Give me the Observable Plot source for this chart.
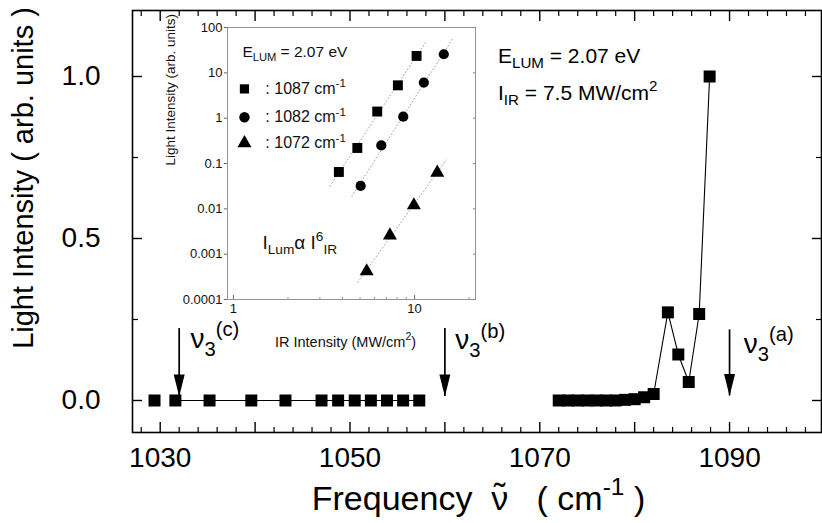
<!DOCTYPE html>
<html><head><meta charset="utf-8">
<script src="https://cdn.jsdelivr.net/npm/d3@7"></script>
<script src="https://cdn.jsdelivr.net/npm/@observablehq/plot@0.6"></script>
<style>
body{margin:0;background:#fff;}
#wrap{position:relative;width:822px;height:523px;overflow:hidden;background:#fff;}
#main{position:absolute;left:0;top:0;}
#inset{position:absolute;left:150px;top:0;}
svg text{white-space:pre;}
</style></head><body><div id="wrap"><div id="main"></div><div id="inset"></div></div>
<script>
// ---------- main spectrum data ----------
const leftFreq  = [1029.4, 1031.6, 1035.2, 1039.6, 1043.2, 1047.0, 1048.75, 1050.5, 1052.2, 1053.9, 1055.6, 1057.3];
const leftVal   = [0, 0, 0, 0, 0, 0, 0, 0, 0, 0, 0, 0];
const rightFreq = [1072, 1073, 1074, 1075, 1076, 1077, 1078, 1079, 1080, 1081, 1082, 1083.5, 1084.6, 1085.7, 1086.8, 1087.9];
const rightVal  = [0, 0, 0, 0, 0, 0, 0, 0.002, 0.004, 0.01, 0.02, 0.272, 0.142, 0.057, 0.267, 1.0];

// arrows marking nu3 positions
const arrowFreq = [1032, 1060, 1090];
const arrowTop  = [0.222, 0.222, 0.218];
const arrowTip  = [0.012, 0.012, 0.014];
const arrowText = ["ν_{3}^{(c)}", "ν_{3}^{(b)}", "ν_{3}^{(a)}"];
const arrowTextX = [1033.2, 1061.1, 1091.5];
const arrowTextY = [0.163, 0.158, 0.147];

// main annotations
const noteText = ["E_{LUM} = 2.07 eV", "I_{IR} = 7.5 MW/cm^{2}"];
const noteX = [1065.6, 1065.6];
const noteY = [1.043, 0.929];

// axis titles
const yTitle = "Light Intensity ( arb. units )";
const xTitle = "Frequency  ~{ν}   ( cm^{-1} )";

// main axis ticks
const xLabelTicks = [1030, 1050, 1070, 1090];
const xOtherMajor = [1040, 1060, 1080];
const xMinorTicks = [1028, 1032, 1034, 1036, 1038, 1042, 1044, 1046, 1048, 1052, 1054, 1056, 1058, 1062, 1064, 1066, 1068, 1072, 1074, 1076, 1078, 1082, 1084, 1086, 1088, 1092, 1094, 1096, 1098];
const yMajorTicks = [0, 0.5, 1.0];
const yMinorTicks = [0.25, 0.75];

// ---------- inset data (log-log) ----------
const sqIR = [3.82, 4.83, 6.22, 8.09, 10.26];
const sqI  = [0.065, 0.22, 1.4, 5.3, 23.6];
const ciIR = [5.04, 6.55, 8.66, 11.25, 14.5];
const ciI  = [0.032, 0.25, 1.08, 6.1, 25.7];
const trIR = [5.44, 7.31, 9.91, 13.35];
const trI  = [0.00042, 0.0026, 0.012, 0.063];

const insetYTicks = [0.0001, 0.001, 0.01, 0.1, 1, 10, 100];
const insetYLabels = ["0.0001", "0.001", "0.01", "0.1", "1", "10", "100"];
const insetXTicks = [1, 10];
const insetXMinor = [2, 3, 4, 5, 6, 7, 8, 9, 20];

const legendSymbols = ["square", "circle", "triangle"];
const legendText = [": 1087 cm^{-1}", ": 1082 cm^{-1}", ": 1072 cm^{-1}"];
const legendSymX = 1.15, legendTextX = 1.5;
const legendY = [4.42, 1.05, 0.281];

const insetTitle = "E_{LUM} = 2.07 eV";
const insetTitleX = 1.12, insetTitleY = 22.7;
const lawText = "I_{Lum}α I^{6}_{IR}";
const lawX = 1.445, lawY = 0.00132;
const insetYTitle = "Light Intensity (arb. units)";
const insetXTitle = "IR Intensity (MW/cm^{2})";

const FONT = "'Liberation Sans', Arial, Helvetica, sans-serif";

// ---------- build tables ----------
const leftData = leftFreq.map((f, i) => ({f, v: leftVal[i]}));
const rightData = rightFreq.map((f, i) => ({f, v: rightVal[i]}));
const arrows = arrowFreq.map((f, i) => ({f, top: arrowTop[i], tip: arrowTip[i], t: arrowText[i], tx: arrowTextX[i], ty: arrowTextY[i]}));
const notes = noteText.map((t, i) => ({t, x: noteX[i], y: noteY[i]}));

const arrowHead = {draw(ctx) { ctx.moveTo(0, 0); ctx.lineTo(-5.5, -22); ctx.lineTo(5.5, -22); ctx.closePath(); }};

const main = Plot.plot({
  width: 822, height: 523,
  marginLeft: 132, marginRight: 1, marginTop: 10, marginBottom: 91,
  style: {fontFamily: FONT, background: "transparent", color: "black"},
  x: {domain: [1027.08, 1099.69]},
  y: {domain: [-0.0988, 1.2037]},
  marks: [
    Plot.frame({stroke: "black", strokeWidth: 1.6}),
    Plot.axisX(xLabelTicks, {anchor: "bottom", tickSize: -10, tickPadding: 25, fontSize: 28, tickFormat: d => String(d), label: null, strokeWidth: 1.4}),
    Plot.axisX(xOtherMajor, {anchor: "bottom", tickSize: -10, tickFormat: () => "", label: null, strokeWidth: 1.4}),
    Plot.axisX(xMinorTicks, {anchor: "bottom", tickSize: -5, tickFormat: () => "", label: null, strokeWidth: 1.2}),
    Plot.axisX(xLabelTicks.concat(xOtherMajor), {anchor: "top", tickSize: -10, tickFormat: () => "", label: null, strokeWidth: 1.4}),
    Plot.axisX(xMinorTicks, {anchor: "top", tickSize: -5, tickFormat: () => "", label: null, strokeWidth: 1.2}),
    Plot.axisY(yMajorTicks, {anchor: "left", tickSize: -10, tickPadding: 42, fontSize: 28, tickFormat: d => d.toFixed(1), label: null, strokeWidth: 1.4}),
    Plot.axisY(yMinorTicks, {anchor: "left", tickSize: -6, tickFormat: () => "", label: null, strokeWidth: 1.2}),
    Plot.axisY(yMajorTicks, {anchor: "right", tickSize: -10, tickFormat: () => "", label: null, strokeWidth: 1.4}),
    Plot.axisY(yMinorTicks, {anchor: "right", tickSize: -6, tickFormat: () => "", label: null, strokeWidth: 1.2}),
    Plot.line(leftData.slice(1), {x: "f", y: "v", stroke: "black", strokeWidth: 1.1}),
    Plot.line(rightData, {x: "f", y: "v", stroke: "black", strokeWidth: 1.1}),
    Plot.dot(leftData, {x: "f", y: "v", symbol: "square", r: 6.77, fill: "black", stroke: "none"}),
    Plot.dot(rightData, {x: "f", y: "v", symbol: "square", r: 6.77, fill: "black", stroke: "none"}),
    Plot.ruleX(arrows, {x: "f", y1: "top", y2: "tip", stroke: "black", strokeWidth: 1.7}),
    Plot.dot(arrows, {x: "f", y: "tip", symbol: arrowHead, r: 5, fill: "black", stroke: "none"}),
    Plot.text(arrows, {x: "tx", y: "ty", text: "t", textAnchor: "start", lineAnchor: "bottom", fontSize: 28}),
    Plot.text(notes, {x: "x", y: "y", text: "t", textAnchor: "start", lineAnchor: "bottom", fontSize: 21}),
    Plot.text([xTitle], {text: d => d, frameAnchor: "bottom", lineAnchor: "bottom", dx: 1.5, dy: 77, fontSize: 34})
  ]
});

// inset
const sqData = sqIR.map((x, i) => ({x, y: sqI[i]}));
const ciData = ciIR.map((x, i) => ({x, y: ciI[i]}));
const trData = trIR.map((x, i) => ({x, y: trI[i]}));
function fitLine(data) {
  const lx = data.map(d => Math.log10(d.x)), ly = data.map(d => Math.log10(d.y));
  const mx = d3.mean(lx), my = d3.mean(ly);
  const b = d3.sum(lx, (v, i) => (v - mx) * (ly[i] - my)) / d3.sum(lx, v => (v - mx) ** 2);
  const x0 = d3.min(data, d => d.x) / 1.12, x1 = d3.max(data, d => d.x) * 1.12;
  return [x0, x1].map(x => ({x, y: 10 ** (my + b * (Math.log10(x) - mx))}));
}
const legend = legendSymbols.map((s, i) => ({s, y: legendY[i], t: legendText[i]}));

const inset = Plot.plot({
  width: 340, height: 360,
  marginLeft: 77, marginRight: 15, marginTop: 27, marginBottom: 61,
  style: {fontFamily: FONT, background: "transparent", color: "#111"},
  x: {type: "log", domain: [0.927, 21.7]},
  y: {type: "log", domain: [1e-4, 100]},
  marks: [
    Plot.frame({stroke: "#8a8a8a", strokeWidth: 0.9}),
    Plot.axisY(insetYTicks, {anchor: "left", tickSize: 3, tickPadding: 2, fontSize: 13, tickFormat: d => insetYLabels[insetYTicks.indexOf(d)], label: null, stroke: "#666"}),
    Plot.axisY(insetYTicks, {anchor: "right", tickSize: -3, tickFormat: () => "", label: null, stroke: "#888"}),
    Plot.axisX(insetXTicks, {anchor: "bottom", tickSize: -4, tickPadding: 8, fontSize: 13, tickFormat: d => String(d), label: null, stroke: "#666"}),
    Plot.axisX(insetXMinor, {anchor: "bottom", tickSize: -2, tickFormat: () => "", label: null, stroke: "#999"}),
    Plot.line(fitLine(sqData), {x: "x", y: "y", stroke: "#999", strokeWidth: 0.9, strokeDasharray: "1,2.5"}),
    Plot.line(fitLine(ciData), {x: "x", y: "y", stroke: "#999", strokeWidth: 0.9, strokeDasharray: "1,2.5"}),
    Plot.line(fitLine(trData), {x: "x", y: "y", stroke: "#999", strokeWidth: 0.9, strokeDasharray: "1,2.5"}),
    Plot.dot(sqData, {x: "x", y: "y", symbol: "square", r: 5.6, fill: "black", stroke: "none"}),
    Plot.dot(ciData, {x: "x", y: "y", symbol: "circle", r: 5.1, fill: "black", stroke: "none"}),
    Plot.dot(trData, {x: "x", y: "y", symbol: "triangle", r: 5.2, fill: "black", stroke: "none"}),
    Plot.dot(legend, {x: () => legendSymX, y: "y", symbol: "s", r: 5.2, fill: "black", stroke: "none"}),
    Plot.text(legend, {x: () => legendTextX, y: "y", text: "t", textAnchor: "start", fontSize: 16}),
    Plot.text([insetTitle], {x: () => insetTitleX, y: () => insetTitleY, text: d => d, textAnchor: "start", lineAnchor: "bottom", fontSize: 15.5}),
    Plot.text([lawText], {x: () => lawX, y: () => lawY, text: d => d, textAnchor: "start", lineAnchor: "bottom", fontSize: 19}),
    Plot.text([insetYTitle], {text: d => d, frameAnchor: "left", rotate: -90, dx: -57, dy: 2, fontSize: 13.5}),
    Plot.text([insetXTitle], {text: d => d, frameAnchor: "bottom", lineAnchor: "bottom", dx: -6, dy: 47, fontSize: 14.5})
  ]
});

document.getElementById("main").appendChild(main);
document.getElementById("inset").appendChild(inset);

// main y-axis title (rotated, placed beside the axis)
d3.select(main).append("text")
  .attr("transform", "translate(23,178) rotate(-90)")
  .attr("text-anchor", "middle")
  .attr("dy", "0.35em")
  .attr("font-size", 29)
  .attr("font-family", FONT)
  .attr("fill", "black")
  .text(yTitle);

// rich text: _{sub}, ^{sup}, ~{x} (tilde over x)
const SVGNS = "http://www.w3.org/2000/svg";
function richify(svg) {
  svg.querySelectorAll("text").forEach(t => {
    if (t.children.length) return;
    const s = t.textContent;
    if (!/[_^~]\{/.test(s)) return;
    const fs = parseFloat(getComputedStyle(t).fontSize) || 12;
    t.textContent = "";
    const re = /([_^~])\{([^}]*)\}/g;
    let last = 0, m, cur = 0, pendingDx = 0;
    const add = (str, kind) => {
      if (!str) return;
      const ts = document.createElementNS(SVGNS, "tspan");
      let target = 0;
      if (kind === "_") { target = 0.28 * fs; ts.setAttribute("font-size", (0.72 * fs).toFixed(2)); }
      else if (kind === "^") { target = -0.42 * fs; ts.setAttribute("font-size", (0.72 * fs).toFixed(2)); }
      const dy = target - cur;
      if (dy) ts.setAttribute("dy", dy.toFixed(2));
      if (pendingDx) { ts.setAttribute("dx", pendingDx.toFixed(2)); pendingDx = 0; }
      cur = target;
      ts.textContent = str;
      t.appendChild(ts);
      return ts;
    };
    while ((m = re.exec(s))) {
      add(s.slice(last, m.index), null);
      if (m[1] === "~") {
        const base = add(m[2], null);
        const w = base.getComputedTextLength();
        const tl = document.createElementNS(SVGNS, "tspan");
        tl.textContent = "˜";
        t.appendChild(tl);
        const tw = tl.getComputedTextLength();
        tl.setAttribute("dx", (-(w + tw) / 2).toFixed(2));
        tl.setAttribute("dy", (-0.06 * fs).toFixed(2));
        cur = -0.06 * fs;
        pendingDx = (w - tw) / 2;
      } else {
        add(m[2], m[1]);
      }
      last = re.lastIndex;
    }
    add(s.slice(last), null);
  });
}
richify(main);
richify(inset);
</script></body></html>
